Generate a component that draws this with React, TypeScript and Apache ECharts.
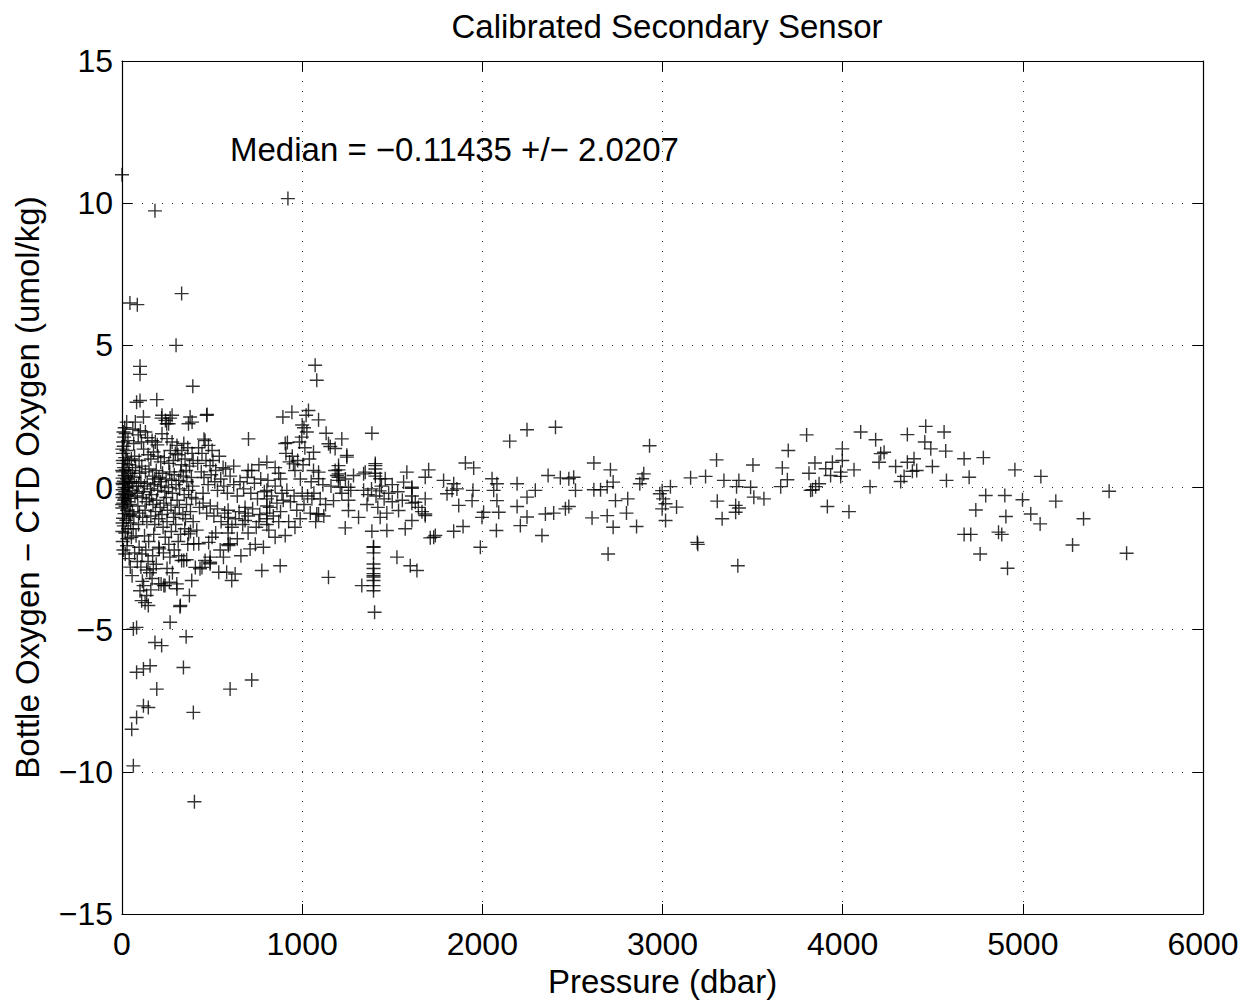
import React, { useEffect, useRef } from "react";
import * as echarts from "echarts";

const titleText = "Calibrated Secondary Sensor";
const xLabel = "Pressure (dbar)";
const yLabel = "Bottle Oxygen − CTD Oxygen (umol/kg)";
const medianText = "Median = −0.11435 +/− 2.0207";
const xTicks = [0, 1000, 2000, 3000, 4000, 5000, 6000];
const yTicks = [-15, -10, -5, 0, 5, 10, 15];

// [pressure (dbar), bottle - CTD oxygen (umol/kg)]
const surfacePts: number[][] = [
  [0, 11.0], [44, 6.49], [85, 6.43], [100, 4.26], [100, 3.98], [81, 3.0], [100, 3.06], [74, 2.3], [8, 1.95], [12, 1.77],
  [6, 1.6], [15, 2.1], [20, 1.9], [10, 1.45], [25, 1.3], [5, 1.2], [18, 1.05], [30, 0.95], [8, 0.85], [40, 0.8],
  [12, 0.7], [22, 0.62], [5, 0.55], [35, 0.5], [15, 0.42], [48, 0.4], [3, 0.33], [28, 0.3], [10, 0.22], [55, 0.2],
  [20, 0.15], [6, 0.1], [42, 0.05], [14, 0.0], [30, -0.02], [4, -0.08], [60, -0.1], [18, -0.15], [9, -0.22], [36, -0.25],
  [25, -0.3], [3, -0.35], [50, -0.38], [12, -0.45], [32, -0.5], [7, -0.55], [45, -0.6], [20, -0.66], [2, -0.72], [28, -0.8],
  [58, -0.85], [14, -0.92], [38, -1.0], [6, -1.08], [24, -1.15], [48, -1.25], [10, -1.35], [34, -1.45], [18, -1.6], [52, -1.75],
  [4, -1.9], [28, -2.05], [18, -2.34], [40, -2.5], [56, -3.1], [46, -2.8], [63, -4.98], [81, -4.92], [81, -6.5], [54, -8.5],
  [81, -8.09], [63, -9.79], [65, 1.55], [70, 1.1], [75, 0.7], [68, 0.35], [80, 0.05], [72, -0.3], [88, -0.65], [66, -1.0],
  [92, -1.3], [78, -1.7], [95, -2.1], [85, -2.6], [60, 2.05], [90, 1.85], [95, 0.95], [98, 0.5], [92, 0.15], [85, -0.2],
  [97, -0.9], [2, 1.35], [4, 0.95], [1, 0.6], [3, 0.15], [2, -0.25], [1, -0.6], [3, -1.25], [2, -1.55], [26, 2.3],
  [33, 1.65], [52, 1.0], [58, 0.6], [38, 0.2], [16, -0.4], [44, -0.95], [62, -1.45], [30, -1.8], [8, -2.2], [70, -2.3],
];

const upperPts: number[][] = [
  [183, 9.73], [331, 6.82], [300, 5.0], [393, 3.56], [193, 3.09], [119, 2.48], [220, 2.44], [267, 2.44], [378, 2.48], [248, 2.24],
  [369, 2.24], [222, 2.54], [278, 2.54], [259, 2.24], [241, 2.36], [389, 2.3], [102, 2.0], [130, 1.95], [167, 1.65], [185, 1.6],
  [222, 1.89], [250, 1.72], [278, 1.6], [305, 1.48], [343, 1.55], [365, 1.4], [389, 1.2], [120, 1.35], [145, 1.15], [160, 1.0],
  [175, 1.25], [200, 1.1], [215, 0.9], [235, 1.05], [260, 0.85], [285, 0.95], [310, 1.15], [330, 0.8], [350, 1.0], [375, 0.75],
  [395, 0.95], [110, 0.75], [130, 0.55], [150, 0.65], [170, 0.4], [190, 0.6], [205, 0.35], [225, 0.5], [245, 0.3], [265, 0.55],
  [290, 0.45], [315, 0.25], [340, 0.4], [360, 0.2], [385, 0.35], [105, 0.2], [125, 0.05], [140, 0.15], [158, -0.05], [178, 0.1],
  [198, -0.1], [218, 0.05], [238, -0.15], [258, 0.0], [280, -0.2], [300, 0.1], [320, -0.05], [345, -0.25], [370, -0.1], [392, 0.05],
  [112, -0.35], [135, -0.5], [152, -0.4], [172, -0.6], [192, -0.45], [212, -0.7], [232, -0.55], [252, -0.8], [272, -0.62], [295, -0.9],
  [318, -0.7], [338, -0.95], [358, -0.6], [380, -0.85], [115, -1.05], [138, -1.2], [160, -1.0], [182, -1.3], [204, -1.1], [228, -1.4],
  [250, -1.2], [274, -1.55], [298, -1.3], [325, -1.65], [348, -1.45], [370, -1.63], [395, -1.2], [125, -1.7], [148, -1.9], [111, -2.34],
  [204, -2.1], [207, -2.16], [170, -2.4], [190, -2.7], [230, -2.3], [260, -2.0], [290, -2.2], [343, -2.57], [331, -2.57], [359, -2.54],
  [398, -1.98], [137, -2.9], [155, -3.0], [167, -3.2], [174, -2.86], [100, -3.63], [109, -3.98], [137, -3.8], [146, -4.15], [217, -3.39],
  [263, -3.33], [304, -3.39], [387, -3.27], [374, -3.8], [322, -4.19], [204, -3.39], [232, -3.45], [239, -3.45], [305, -3.56], [324, -4.15],
  [267, -4.74], [183, -5.45], [220, -5.56], [356, -5.25], [119, -6.38], [156, -6.27], [341, -6.33], [193, -7.09], [119, -7.68], [146, -7.74],
  [396, -7.91], [402, -11.05], [120, -3.45], [128, -4.05], [105, -2.8], [145, -2.6], [160, -3.6], [113, -3.3], [250, -2.85], [280, -3.0],
  [315, -2.4], [365, -2.0], [433, -2.86], [108, 1.6], [142, 1.75], [196, 1.5], [268, 1.3], [296, 1.2], [332, 1.3], [356, 0.6],
  [182, 0.3], [214, 0.2], [276, 0.25], [326, 0.55], [118, -0.15], [164, -0.25], [246, -0.35], [306, -0.45], [386, -0.35], [128, -0.8],
  [186, -0.85], [222, -0.95], [286, -1.05], [352, -1.1], [176, -1.65], [240, -1.75], [312, -1.9], [380, -1.55], [132, -2.2], [266, -2.45],
];

const midPts: number[][] = [
  [470, 2.54], [472, 2.57], [461, 1.65], [480, 1.48], [500, 1.3], [444, 1.2], [466, 0.95], [489, 0.77], [702, 1.71], [720, 0.6],
  [804, 0.89], [561, 0.7], [575, 0.65], [420, 0.85], [440, 0.55], [455, 0.35], [478, 0.1], [495, 0.45], [515, 0.2], [530, -0.1],
  [548, 0.3], [565, 0.05], [585, -0.2], [600, 0.4], [620, 0.1], [640, -0.3], [655, 0.2], [675, -0.05], [695, 0.35], [715, -0.2],
  [735, 0.15], [752, -0.4], [770, 0.3], [790, -0.15], [810, 0.25], [830, -0.3], [850, 0.05], [870, 0.5], [888, -0.2], [410, -0.4],
  [430, -0.7], [450, -0.55], [470, -0.9], [490, -0.65], [510, -1.0], [530, -0.75], [550, -1.2], [570, -0.9], [589, -0.8], [589, -1.05],
  [589, -1.3], [589, -1.6], [589, -2.0], [600, -1.98], [591, -2.04], [610, -1.4], [630, -1.1], [650, -0.85], [670, -1.3], [683, -0.7],
  [683, -0.9], [683, -1.16], [700, -1.0], [711, -2.16], [725, -0.75], [745, -1.4], [765, -0.95], [785, -2.1], [776, -2.92], [804, -0.1],
  [804, -0.4], [804, -0.65], [804, -0.9], [804, -1.1], [804, -1.3], [820, -0.7], [840, -1.0], [860, -0.55], [878, -2.75], [880, -0.85],
  [895, -0.45], [906, -1.69], [481, -1.93], [500, -1.75], [489, -2.45], [489, -2.68], [537, -2.98], [407, -2.81], [444, -2.81], [461, -2.57],
  [489, -2.63], [563, -2.45], [581, -2.98], [628, -3.04], [609, -3.27], [600, -7.09], [720, -6.77], [426, -1.98], [415, -1.5], [520, -1.6],
  [545, -2.2], [640, -1.8], [660, -2.4], [700, -1.6], [740, -2.0], [760, -1.2], [815, -1.5], [850, -1.75], [870, -1.2], [450, -0.2],
  [520, 0.6], [620, 0.75], [700, 0.6], [760, 0.8], [850, 0.7], [880, 0.3], [425, 1.4], [455, 1.7], [505, 0.95], [540, 1.1],
];

const kneePts: number[][] = [
  [921, 10.16], [1072, 4.3], [1081, 3.77], [893, 2.48], [943, 2.65], [1035, 2.71], [1022, 2.54], [1091, 2.38], [906, 1.55], [918, 1.58],
  [998, 1.77], [1026, 1.95], [1063, 1.24], [1133, 1.91], [1146, 1.54], [1220, 1.71], [1248, 1.13], [952, 0.83], [1063, 0.6], [1091, 0.31],
  [1091, 0.54], [1183, 0.6], [1193, 0.42], [1211, 0.01], [1156, 1.44], [1183, 1.37], [1248, 1.07], [1202, 0.77], [1202, 0.62], [1202, 0.48],
  [1202, 0.36], [1202, 0.25], [1285, 0.42], [1257, 0.01], [1257, -0.45], [1174, -0.46], [1091, -0.93], [1081, -0.93], [989, -1.1], [1054, -0.4],
  [1239, -1.42], [1257, -0.81], [1146, -3.16], [910, 1.2], [930, 0.9], [945, 1.1], [960, 0.6], [975, 0.95], [990, 0.3], [1005, 0.8],
  [1015, 1.4], [1040, 1.0], [1050, 0.2], [1000, -0.2], [915, -0.1], [935, -0.5], [955, -0.3], [970, -0.8], [1010, -0.6], [1030, -0.3],
  [1045, -0.9], [1065, -0.2], [1100, -0.4], [1115, 0.1], [1130, -0.6], [1160, 0.05], [1220, -0.2], [1240, 0.3], [1270, -0.1], [925, -1.2],
  [960, -1.4], [1075, -1.2], [1120, -1.0], [1000, 2.2], [985, 1.6], [1010, 2.1],
];

const midDeepPts: number[][] = [
  [1313, -1.05], [1341, 0.48], [1387, 1.91], [1406, 0.77], [1433, 0.31], [1350, 0.54], [1406, 0.84], [1406, 0.65], [1406, 0.5], [1406, 0.4],
  [1461, 0.31], [1581, 0.54], [1563, 0.19], [1609, 0.01], [1609, -0.03], [1609, -0.3], [1609, -0.55], [1341, -0.1], [1365, -0.25], [1385, -0.05],
  [1410, -0.3], [1430, -0.12], [1455, -0.4], [1480, -0.2], [1500, -0.5], [1530, -0.15], [1556, -0.45], [1331, -3.45], [1396, -2.1], [1396, -2.3],
  [1396, -2.69], [1396, -2.85], [1396, -3.03], [1396, -3.1], [1396, -3.15], [1396, -3.27], [1396, -3.45], [1396, -3.63], [1402, -4.39], [1433, -1.05],
  [1535, -0.81], [1628, -0.52], [1645, -0.7], [1665, -0.85], [1683, -0.99], [1387, -1.54], [1470, -1.51], [1572, -1.45], [1609, -1.16], [1711, -1.77],
  [1396, -2.08], [1526, -2.45], [1600, -2.75], [1637, -2.92], [1730, -1.75], [1702, 0.62], [1683, 0.36], [1785, 0.25], [1683, -0.4], [1683, -0.93],
  [1739, -1.69], [1360, -0.6], [1420, -0.7], [1470, -0.9], [1500, 0.1], [1440, 0.05],
  [1906, 0.86], [1952, 0.69], [1893, -1.37], [1841, -1.54], [1841, 0.13], [1832, -0.1], [1859, -0.05], [1804, -0.22], [1869, -0.63], [1948, -0.1],
  [1943, -0.46], [2054, 0.31], [2081, 0.13], [2063, -0.1], [2081, -0.46], [2091, -0.87], [2078, -1.51], [2007, -0.87], [1998, -1.05], [1989, -2.1],
  [2152, 1.63], [2248, 2.03], [2406, 2.12], [2193, 0.13], [2294, -0.1], [2248, -0.34], [2193, -0.67], [2248, -1.04], [2211, -1.34], [2331, -1.69],
  [2350, -0.93], [2396, -0.9], [2461, -0.75], [2480, -0.67], [2365, 0.42], [2433, 0.34], [2480, 0.31], [2507, 0.36], [2517, -0.1],
];

const deepPts: number[][] = [
  [2619, 0.86], [2711, 0.62], [2726, 0.19], [2693, 0.03], [2619, -0.08], [2656, -0.08], [2739, -0.46], [2807, -0.4], [2693, -0.99], [2800, -0.9],
  [2609, -1.07], [2726, -1.4], [2856, -1.37], [2698, -2.34], [2928, 1.47], [2896, 0.48], [2887, 0.31], [2874, 0.13], [2998, -0.11], [2985, -0.22],
  [3004, -0.4], [3017, -0.57], [2998, -0.75], [3078, -0.69], [3044, 0.03], [3017, -1.16], [3156, 0.34], [3239, 0.39], [3341, 0.25], [3424, 0.25],
  [3411, 0.03], [3489, 0.01], [3507, -0.34], [3563, -0.4], [3304, -0.48], [3406, -0.63], [3424, -0.72], [3406, -0.87], [3331, -1.1], [3193, -1.93],
  [3196, -2.0], [3418, -2.75], [3300, 0.97], [3502, 0.79], [3800, 1.85], [3698, 1.3], [3665, 0.69], [3846, 0.86], [3813, 0.5], [3693, 0.27],
  [3656, 0.03], [3850, 0.03], [3822, -0.1], [4100, 1.95], [4183, 1.68], [4359, 1.86], [4461, 2.15], [4563, 1.95], [4456, 1.6], [4489, 1.36],
  [4572, 1.28], [4674, 1.01], [4781, 1.05], [3998, 1.36], [3943, 0.89], [3998, 0.95], [3906, 0.66], [3989, 0.54], [4063, 0.62], [3933, 0.42],
  [3989, 0.39], [3869, 0.13], [3832, -0.08], [3915, -0.67], [4035, -0.85], [4152, 0.03], [4211, 1.19], [4230, 1.24], [4202, 0.89], [4294, 0.74],
  [4359, 0.89], [4396, 1.01], [4341, 0.39], [4322, 0.21], [4387, 0.57], [4411, 0.6], [4498, 0.74], [4576, 0.25], [4702, 0.36], [4956, 0.62],
  [5100, 0.39], [4794, -0.28], [4900, -0.28], [4998, -0.43], [5183, -0.48], [5479, -0.13], [4739, -0.79], [4906, -1.02], [5044, -0.93], [5096, -1.28],
  [5337, -1.1], [4674, -1.65], [4711, -1.65], [4865, -1.57], [4883, -1.65], [4763, -2.34], [4915, -2.84], [5276, -2.02], [5576, -2.31],
];

const FONT = "'Liberation Sans', Arial, Helvetica, sans-serif";
const PLUS =
  "path://M-1,-0.1L1,-0.1L1,0.1L-1,0.1Z M-0.1,-1L0.1,-1L0.1,1L-0.1,1Z";

const fmt = (v: number) => String(v).replace("-", "\u2212");

export default function App() {
  const ref = useRef<HTMLDivElement>(null);
  useEffect(() => {
    if (!ref.current) return;
    const chart = echarts.init(ref.current, undefined, { renderer: "svg" });
    const allPts = [...surfacePts, ...upperPts, ...midPts, ...kneePts, ...midDeepPts, ...deepPts];
    const axisLine = { show: true, onZero: false, lineStyle: { color: "#000", width: 1.2 } };
    const tick = { show: true, inside: true, length: 10, lineStyle: { color: "#000", width: 1 } };
    const grid = { show: true, lineStyle: { color: "#333", width: 1, type: [1, 9] as any } };
    chart.setOption({
      animation: false,
      backgroundColor: "#fff",
      title: {
        text: titleText,
        left: 662,
        textAlign: "center",
        top: 5,
        textStyle: { fontFamily: FONT, fontSize: 33, fontWeight: "normal", color: "#000" },
      },
      grid: { left: 122, right: 49, top: 61, bottom: 86, containLabel: false, outerBoundsMode: "none" },
      graphic: [
        {
          type: "text",
          left: 230,
          top: 133,
          style: { text: medianText, font: `33px ${FONT}`, fill: "#000" },
        },
      ],
      xAxis: [
        {
          type: "value",
          position: "bottom",
          min: xTicks[0],
          max: xTicks[xTicks.length - 1],
          interval: 1000,
          axisLine,
          axisTick: tick,
          axisLabel: { fontFamily: FONT, fontSize: 32, color: "#000", margin: 14, formatter: fmt },
          splitLine: grid,
          name: xLabel,
          nameLocation: "middle",
          nameGap: 40,
          nameTextStyle: { fontFamily: FONT, fontSize: 33, color: "#000" },
        },
        {
          type: "value",
          position: "top",
          min: xTicks[0],
          max: xTicks[xTicks.length - 1],
          interval: 1000,
          axisLine,
          axisTick: tick,
          axisLabel: { show: false },
          splitLine: { show: false },
        },
      ],
      yAxis: [
        {
          type: "value",
          position: "left",
          min: yTicks[0],
          max: yTicks[yTicks.length - 1],
          interval: 5,
          axisLine,
          axisTick: tick,
          axisLabel: { fontFamily: FONT, fontSize: 32, color: "#000", margin: 9, formatter: fmt },
          splitLine: grid,
          name: yLabel,
          nameLocation: "middle",
          nameGap: 78,
          nameTextStyle: { fontFamily: FONT, fontSize: 33, color: "#000" },
        },
        {
          type: "value",
          position: "right",
          min: yTicks[0],
          max: yTicks[yTicks.length - 1],
          interval: 5,
          axisLine,
          axisTick: tick,
          axisLabel: { show: false },
          splitLine: { show: false },
        },
      ],
      series: [
        {
          type: "scatter",
          xAxisIndex: 0,
          yAxisIndex: 0,
          data: allPts,
          symbol: PLUS,
          symbolSize: 14,
          itemStyle: { color: "#000" },
          emphasis: { disabled: true },
          clip: true,
        },
      ],
    });
    return () => chart.dispose();
  }, []);
  return (
    <div
      ref={ref}
      style={{ position: "absolute", left: 0, top: 0, width: 1252, height: 1000, background: "#fff" }}
    />
  );
}
